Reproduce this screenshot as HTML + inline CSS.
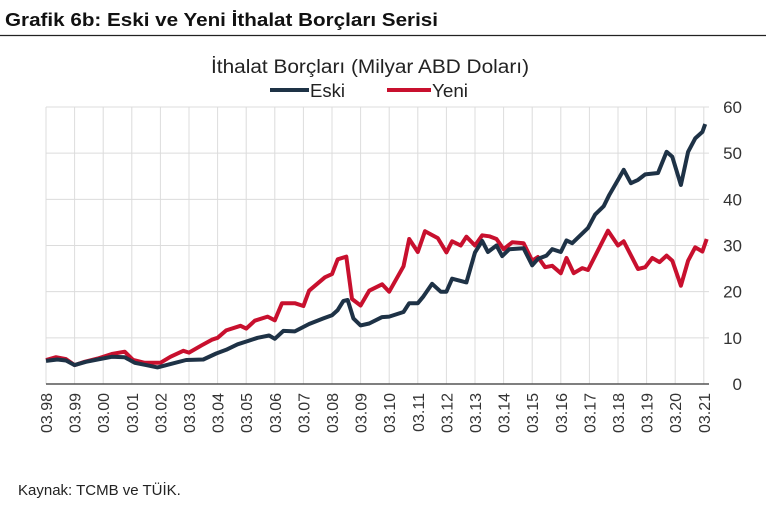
<!DOCTYPE html>
<html><head><meta charset="utf-8"><style>
html,body{margin:0;padding:0;background:#fff;}
svg{display:block;font-family:"Liberation Sans",sans-serif;}
</style></head><body>
<svg id="s" width="766" height="507" viewBox="0 0 766 507">
<text x="5" y="26" font-size="18" font-weight="bold" fill="#111" textLength="433" lengthAdjust="spacingAndGlyphs">Grafik 6b: Eski ve Yeni İthalat Borçları Serisi</text>
<line x1="0" y1="35.5" x2="766" y2="35.5" stroke="#222" stroke-width="1.3"/>
<text x="370" y="73" font-size="19" fill="#222" text-anchor="middle" textLength="318" lengthAdjust="spacingAndGlyphs">İthalat Borçları (Milyar ABD Doları)</text>
<line x1="270" y1="90" x2="309" y2="90" stroke="#1e3246" stroke-width="4"/>
<text x="310" y="97" font-size="18" fill="#222" textLength="35" lengthAdjust="spacingAndGlyphs">Eski</text>
<line x1="387" y1="90" x2="431" y2="90" stroke="#c8102e" stroke-width="4"/>
<text x="432" y="97" font-size="18" fill="#222" textLength="36" lengthAdjust="spacingAndGlyphs">Yeni</text>
<g id="grid" stroke="#dcdcdc" stroke-width="1"></g>
<line x1="46" y1="384" x2="709" y2="384" stroke="#555" stroke-width="1.5"/>
<g id="lab" font-size="16" fill="#333"></g>
<polyline id="yeni" fill="none" stroke="#c8102e" stroke-width="4" stroke-linejoin="round"/>
<polyline id="eski" fill="none" stroke="#1e3246" stroke-width="4" stroke-linejoin="round"/>
<text x="18" y="495" font-size="15" fill="#222">Kaynak: TCMB ve TÜİK.</text>
</svg>
<script>
var NS="http://www.w3.org/2000/svg";
function X(y){return 46+(y-1998)*28.6;}
function Y(v){return 384-v*4.617;}
var g=document.getElementById('grid'),lab=document.getElementById('lab');
for(var i=0;i<=6;i++){var l=document.createElementNS(NS,'line');var yy=Y(i*10);
l.setAttribute('x1',46);l.setAttribute('x2',709);l.setAttribute('y1',yy);l.setAttribute('y2',yy);if(i>0)g.appendChild(l);
var t=document.createElementNS(NS,'text');t.setAttribute('x',742);t.setAttribute('y',yy+6);t.setAttribute('font-size','17');t.setAttribute('text-anchor','end');t.textContent=i*10;lab.appendChild(t);}
for(var k=0;k<=23;k++){var x=X(1998+k);var l=document.createElementNS(NS,'line');
l.setAttribute('x1',x);l.setAttribute('x2',x);l.setAttribute('y1',107);l.setAttribute('y2',384);g.appendChild(l);
var t=document.createElementNS(NS,'text');var yr=(98+k)%100;t.textContent='03.'+(yr<10?'0':'')+yr;
t.setAttribute('transform','translate('+(x+6)+',393) rotate(-90)');t.setAttribute('text-anchor','end');lab.appendChild(t);}
var eski=[[1998,5],[1998.4,5.3],[1998.7,5.1],[1999,4.1],[1999.4,4.8],[1999.8,5.3],[2000.3,5.9],[2000.75,5.8],[2001.1,4.6],[2001.5,4.1],[2001.9,3.6],[2002.35,4.3],[2002.9,5.2],[2003.5,5.3],[2003.95,6.6],[2004.3,7.4],[2004.7,8.6],[2005.1,9.4],[2005.4,10],[2005.8,10.5],[2006,9.8],[2006.3,11.5],[2006.7,11.4],[2007.2,13],[2007.7,14.2],[2008,14.9],[2008.2,16],[2008.4,18],[2008.55,18.2],[2008.75,14.2],[2009,12.7],[2009.3,13.1],[2009.75,14.5],[2010,14.6],[2010.5,15.6],[2010.7,17.5],[2011,17.5],[2011.2,19],[2011.5,21.7],[2011.8,20],[2012,20],[2012.2,22.8],[2012.7,22],[2013,28.5],[2013.25,31],[2013.45,28.6],[2013.75,30],[2013.95,27.7],[2014.2,29.2],[2014.7,29.4],[2015,25.7],[2015.2,27.1],[2015.5,27.8],[2015.7,29.2],[2016,28.6],[2016.2,31.1],[2016.4,30.5],[2016.95,33.8],[2017.2,36.7],[2017.5,38.5],[2017.7,41],[2018,44.2],[2018.2,46.4],[2018.45,43.5],[2018.7,44.2],[2018.95,45.4],[2019.4,45.7],[2019.7,50.3],[2019.9,49.2],[2020.2,43.1],[2020.45,50.3],[2020.7,53.2],[2020.95,54.6],[2021.05,56.3]];
var yeni=[[1998,5.2],[1998.35,5.8],[1998.7,5.4],[1999,4.1],[1999.35,4.8],[1999.8,5.5],[2000.3,6.5],[2000.75,7],[2001.05,5.2],[2001.45,4.6],[2002,4.6],[2002.35,5.9],[2002.8,7.2],[2003,6.8],[2003.45,8.4],[2003.8,9.6],[2004,10],[2004.3,11.6],[2004.8,12.6],[2005,12],[2005.3,13.7],[2005.75,14.6],[2006,13.8],[2006.25,17.5],[2006.7,17.5],[2007,16.9],[2007.2,20.2],[2007.75,23.1],[2008,23.8],[2008.2,27],[2008.5,27.6],[2008.7,18.4],[2009,17],[2009.3,20.2],[2009.75,21.6],[2010,20],[2010.5,25.5],[2010.7,31.4],[2011,28.6],[2011.25,33.1],[2011.7,31.6],[2012,28.5],[2012.2,30.9],[2012.5,30],[2012.7,31.9],[2013,30],[2013.25,32.2],[2013.5,32],[2013.75,31.4],[2014,29.2],[2014.3,30.7],[2014.7,30.5],[2015,26.7],[2015.2,27.5],[2015.45,25.3],[2015.7,25.6],[2016,24],[2016.2,27.3],[2016.45,24],[2016.75,25.1],[2016.95,24.7],[2017.65,33.2],[2018,30],[2018.2,30.9],[2018.7,24.9],[2018.95,25.3],[2019.2,27.3],[2019.45,26.4],[2019.7,27.8],[2019.9,26.7],[2020.2,21.3],[2020.45,26.7],[2020.7,29.6],[2020.95,28.7],[2021.1,31.4]];
function pts(a){return a.map(function(p){return X(p[0]).toFixed(1)+','+Y(p[1]).toFixed(1);}).join(' ');}
document.getElementById('eski').setAttribute('points',pts(eski));
document.getElementById('yeni').setAttribute('points',pts(yeni));
</script>
</body></html>
